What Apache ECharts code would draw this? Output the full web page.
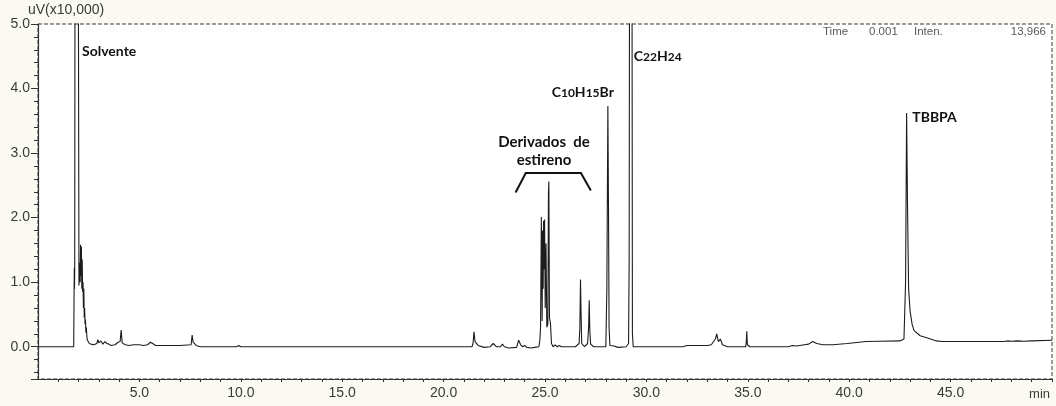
<!DOCTYPE html>
<html>
<head>
<meta charset="utf-8">
<script src="https://cdn.jsdelivr.net/npm/echarts@6/dist/echarts.min.js"></script>
<style>
  html, body { margin: 0; padding: 0; background: #fbfaf2; }
  #chart { width: 1056px; height: 406px; }
</style>
</head>
<body>
<div id="chart"></div>
<script>
// Chromatogram trace: retention time (min) and detector response (uV x10,000)
const times = [
  0, 1.76, 1.78, 1.79, 1.80, 1.81, 1.83, 1.98, 2.02, 2.06, 2.08, 2.10, 2.12, 2.14, 2.16, 2.18,
  2.20, 2.22, 2.24, 2.26, 2.28, 2.30, 2.32, 2.34, 2.36, 2.38, 2.42, 2.50, 2.60, 2.75, 2.90, 2.95,
  3.00, 3.10, 3.20, 3.30, 3.40, 3.50, 3.60, 3.80, 3.95, 4.00, 4.05, 4.10, 4.15, 4.30, 4.50, 4.70,
  5.00, 5.20, 5.40, 5.55, 5.65, 5.80, 6.50, 7.00, 7.55, 7.60, 7.65, 7.80, 8.00, 9.00, 9.80, 9.90,
  10.00, 12.00, 12.05, 12.10, 12.30, 12.35, 12.40, 14.25, 14.30, 14.35, 19.50, 19.55, 20.00,
  21.40, 21.45, 21.50, 21.55, 21.70, 22.00, 22.30, 22.45, 22.60, 22.80, 22.90, 23.00, 23.20,
  23.60, 23.70, 23.80, 23.90, 24.00, 24.10, 24.30, 24.50, 24.70, 24.75, 24.78, 24.82, 24.86,
  24.88, 24.91, 24.93, 24.96, 24.98, 25.01, 25.05, 25.09, 25.14, 25.17, 25.19, 25.22, 25.27,
  25.32, 25.40, 25.50, 25.60, 25.70, 25.80, 26.50, 26.68, 26.72, 26.75, 26.78, 26.81, 26.95,
  27.10, 27.15, 27.18, 27.21, 27.25, 27.40, 28.00, 28.05, 28.10, 28.13, 28.16, 28.20, 28.40,
  28.60, 29.00, 29.12, 29.15, 29.18, 29.28, 29.31, 29.35, 31.80, 32.00, 32.60, 33.00, 33.20,
  33.40, 33.47, 33.55, 33.65, 33.70, 33.75, 34.00, 34.90, 34.93, 34.95, 34.98, 35.10, 37.00,
  37.20, 37.40, 37.80, 38.00, 38.20, 38.40, 38.70, 39.20, 39.90, 40.50, 40.80, 41.50, 42.50,
  42.70, 42.78, 42.83, 42.88, 42.93, 43.00, 43.10, 43.20, 43.50, 43.90, 44.30, 44.60, 45.00,
  47.60, 47.80, 48.00, 48.30, 48.60, 49.00, 50.00
];
const intensity = [
  0, 0, 0.85, 1.22, 0.90, 1.18, 7.50, 7.50, 0.95, 1.30, 1.00, 1.58, 1.10, 1.55, 0.90, 1.35,
  0.85, 1.00, 0.60, 0.90, 0.45, 0.60, 0.35, 0.42, 0.22, 0.30, 0.12, 0.06, 0.04, 0.03, 0.05, 0.11,
  0.06, 0.09, 0.04, 0.08, 0.05, 0.04, 0.02, 0.03, 0.07, 0.05, 0.08, 0.26, 0.06, 0.03, 0.02, 0.03,
  0.03, 0.02, 0.03, 0.07, 0.05, 0.02, 0.02, 0.02, 0.03, 0.18, 0.07, 0.02, 0.00, 0.00, 0.00, 0.02,
  0.00, 0.00, 0.03, 0.00, 0.00, 0.03, 0.00, 0.00, 0.03, 0.00, 0.00, 0.01, 0.00,
  0.00, 0.05, 0.23, 0.08, 0.02, -0.01, 0.00, 0.05, 0.00, 0.00, 0.04, 0.00, -0.02,
  -0.01, 0.10, 0.03, 0.00, 0.02, -0.01, -0.02, -0.01, 0.00, 0.12, 0.30, 2.01, 0.40,
  1.80, 0.90, 1.95, 1.20, 1.97, 0.60, 1.60, 0.30, 0.35, 2.38, 2.56, 0.45, 0.36,
  0.05, 0.00, 0.03, 0.00, 0.02, 0.00, 0.00, 0.05, 0.30, 1.04, 0.51, 0.05, 0.00,
  0.05, 0.30, 0.72, 0.25, 0.04, 0.00, 0.00, 0.90, 3.73, 2.21, 0.30, 0.02, 0.01,
  -0.01, 0.00, 0.05, 1.35, 9.00, 9.00, 0.20, 0.00, 0.00, 0.02, 0.02, 0.02, 0.03,
  0.12, 0.20, 0.08, 0.12, 0.11, 0.03, 0.00, 0.00, 0.10, 0.24, 0.03, 0.00, 0.00,
  0.02, 0.01, 0.03, 0.04, 0.08, 0.05, 0.03, 0.03, 0.05, 0.07, 0.08, 0.085, 0.09,
  0.12, 1.00, 3.62, 2.06, 0.90, 0.56, 0.35, 0.25, 0.17, 0.13, 0.09, 0.08, 0.08,
  0.08, 0.09, 0.085, 0.09, 0.085, 0.09, 0.10
];

// Header readout shown in the upper right of the plot
const readoutLabels = ['Time', '0.001', 'Inten.', '13,966'];

// Peak annotations: text and anchor point [time, response]
const peakLabels = [
  { text: 'Solvente', at: [2.17, 4.58] },
  { text: '{n|C}{s|22}{n|H}{s|24}', at: [29.38, 4.50] },
  { text: '{n|C}{s|10}{n|H}{s|15}{n|Br}', at: [25.33, 3.94] },
  { text: 'TBBPA', at: [43.11, 3.55] }
];
const groupLabel = { text: 'Derivados  de\nestireno', at: [24.95, 3.03] };
const bracketPoints = [[23.55, 2.39], [24.05, 2.69], [26.77, 2.69], [27.26, 2.42]];

const seriesData = times.map((t, i) => [t, intensity[i]]);

const chart = echarts.init(document.getElementById('chart'), null, { renderer: 'canvas' });

const axisFont = { fontFamily: '"Liberation Sans", Arial, sans-serif', fontSize: 14, color: '#3a3a3a' };
const annFont = '"Lato", "Noto Sans", sans-serif';

chart.setOption({
  animation: false,
  backgroundColor: '#fbfaf2',
  grid: {
    left: 38, right: 4, top: 24, bottom: 27,
    show: true,
    backgroundColor: '#ffffff',
    borderColor: '#3a3a3a',
    borderWidth: 1,
    borderType: [4, 2]
  },
  xAxis: {
    type: 'value',
    min: 0, max: 50, interval: 1,
    name: 'min',
    nameLocation: 'end',
    nameGap: 0,
    nameTextStyle: Object.assign({}, axisFont, { fontSize: 13, align: 'right', verticalAlign: 'top', padding: [9, 2, 0, 0] }),
    axisLine: { show: true, onZero: false, lineStyle: { color: '#333', width: 1.2 } },
    axisTick: { show: true, length: 3, lineStyle: { color: '#333' } },
    axisLabel: Object.assign({}, axisFont, {
      margin: 7,
      showMinLabel: false,
      showMaxLabel: true,
      formatter: v => (v > 0 && v < 50 && v % 5 === 0) ? v.toFixed(1) : ''
    }),
    splitLine: { show: false }
  },
  yAxis: {
    type: 'value',
    min: -0.5, max: 5,
    minInterval: 1, maxInterval: 1,
    name: 'uV(x10,000)',
    nameLocation: 'end',
    nameGap: 1,
    nameTextStyle: Object.assign({}, axisFont, { fontSize: 14, align: 'left', verticalAlign: 'bottom', padding: [0, 0, -2, -10] }),
    axisLine: { show: true, onZero: false, lineStyle: { color: '#333', width: 1.2 } },
    axisTick: { show: true, length: 7, lineStyle: { color: '#333' } },
    minorTick: { show: true, splitNumber: 5, length: 4, lineStyle: { color: '#333' } },
    axisLabel: Object.assign({}, axisFont, {
      margin: 8,
      formatter: v => (v >= 0 && Math.abs(v - Math.round(v)) < 1e-9) ? v.toFixed(1) : ''
    }),
    splitLine: { show: false },
    minorSplitLine: { show: false }
  },
  series: [{
    type: 'line',
    data: seriesData,
    showSymbol: false,
    symbol: 'none',
    clip: true,
    lineStyle: { color: '#1c1c1c', width: 1.1 },
    z: 3
  }]
});

// Place annotations at data coordinates once the axes are laid out
function px(p) { return chart.convertToPixel({ gridIndex: 0 }, p); }

const graphics = [];
peakLabels.forEach(l => {
  const p = px(l.at);
  graphics.push({
    type: 'text', x: p[0], y: p[1], z: 10,
    style: {
      text: l.text,
      fontFamily: annFont, fontSize: 14, fontWeight: 'bold', fill: '#111',
      verticalAlign: 'middle', align: 'left',
      rich: {
        n: { fontFamily: annFont, fontSize: 14, fontWeight: 'bold', fill: '#111' },
        s: { fontFamily: annFont, fontSize: 12, fontWeight: 'bold', fill: '#111', verticalAlign: 'bottom', padding: [2, 0, 0, 0] }
      }
    }
  });
});
const g = px(groupLabel.at);
graphics.push({
  type: 'text', x: g[0], y: g[1], z: 10,
  style: {
    text: groupLabel.text,
    fontFamily: annFont, fontSize: 15, fontWeight: 'bold', fill: '#111',
    align: 'center', verticalAlign: 'middle', lineHeight: 18
  }
});
graphics.push({
  type: 'polyline', z: 10,
  shape: { points: bracketPoints.map(px) },
  style: { stroke: '#111', lineWidth: 2, fill: null }
});

// Readout text along the top edge of the plot
const topY = px([0, 5])[1] + 8;
const rightX = px([50, 5])[0];
const readoutX = [rightX - 229, rightX - 183, rightX - 138, rightX - 6];
readoutLabels.forEach((t, i) => {
  graphics.push({
    type: 'text', x: readoutX[i], y: topY, z: 10,
    style: {
      text: t,
      fontFamily: '"Liberation Sans", Arial, sans-serif', fontSize: 11.5, fill: '#5a5a5a',
      align: i === 3 ? 'right' : 'left', verticalAlign: 'middle'
    }
  });
});

chart.setOption({ graphic: graphics });
</script>
</body>
</html>
